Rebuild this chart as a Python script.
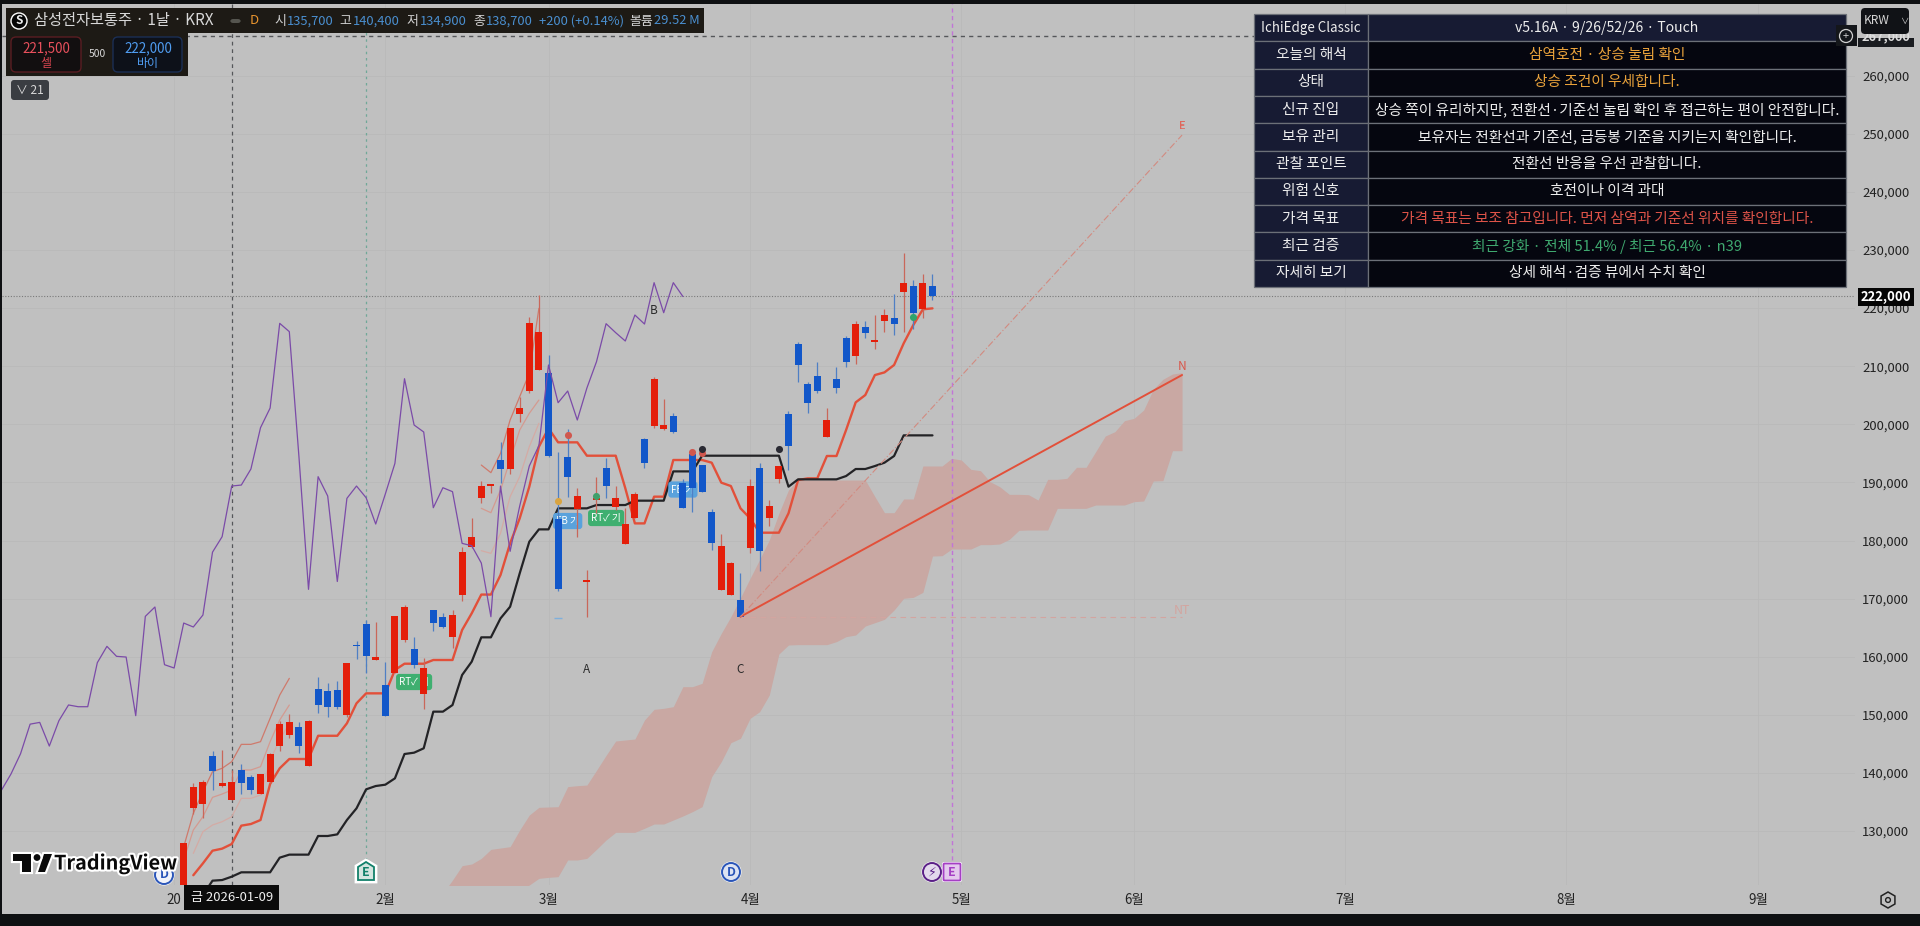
import numpy as np, pandas as pd, seaborn as sns
import matplotlib
matplotlib.use("Agg")
import matplotlib.pyplot as plt
from matplotlib.patches import Rectangle, FancyBboxPatch, Circle, Polygon, RegularPolygon
import matplotlib.patheffects as pe

# ---------- data ----------
opens = [119000,134000,134700,143000,137700,135300,140450,139250,136400,138400,144700,146600,147950,141250,154450,154160,154270,149900,162080,165690,
 159500,155140,157200,162820,161390,153530,168040,166840,163400,170620,178830,187370,189380,193800,192310,201770,205790,209400,208890,183650,
 194430,185420,172900,186970,192420,185830,179400,183930,197470,199770,199250,201430,189960,194890,192990,184900,171480,170620,169760,178770,
 192420,183930,190590,201720,213880,206940,208310,197870,207850,214910,211760,216800,214220,217780,218240,222770,223800,219840,223800]
highs = [128000,138200,138800,143800,143950,140500,141500,139650,139900,143400,148900,150100,148800,149100,156450,155420,155880,158980,162770,166320,
 165920,159040,166950,168900,163450,159720,168040,167580,168040,178940,183820,190300,189550,196900,199420,204760,218410,222250,211930,195290,
 199130,188980,174930,190870,194150,189380,185540,188400,197590,208200,204350,202000,190590,194890,192990,185370,181120,176360,174470,190590,
 193400,186970,192830,202290,214220,207340,210780,202750,209920,215200,217780,217780,218870,219790,222370,229420,224840,225810,225870]
lows = [118500,133000,132200,137100,137600,135300,136400,136300,136300,138200,143800,146100,143370,141200,150250,149570,150950,149680,159670,157140,
 159440,149860,157140,162540,158000,151000,164490,165000,161450,169650,178650,186510,188120,189840,191450,200450,205330,209350,194430,171370,
 187550,180550,166780,184680,187260,185250,179400,183820,192540,199310,199020,198450,185650,184960,188290,178370,171480,170620,166780,177800,
 174810,182500,189840,192140,207340,201890,205440,197870,205330,209920,210380,214910,212900,215950,215370,215890,216350,218240,221400]
closes = [128000,137500,138400,140300,138300,138400,138200,137000,139800,143300,148400,148700,144630,149000,151700,151400,151400,158980,161790,160070,
 159950,149860,166950,168560,158630,158060,165800,165120,167180,178000,180660,189380,189550,192310,199420,202800,217380,215950,194490,171600,
 190990,187660,172950,187260,189380,187370,182840,188000,193280,207850,199880,198680,185650,189090,188410,179510,179110,176130,166890,189380,
 178140,185940,192830,196320,210210,203720,205730,200740,206250,210780,217320,215770,214340,218810,217260,224380,219210,224380,222000]

tenkan = [np.nan,122400,124440,126620,126970,127770,130930,131210,131900,138100,140800,142400,142400,142400,146400,146400,146400,148540,151980,153700,
 153700,153700,157720,158800,158800,158800,159440,159440,159440,164600,167470,170700,170700,174060,179510,183820,189270,196150,199310,196900,
 196900,196900,194600,194600,194600,194600,189000,182950,182950,187550,187550,193860,193860,193860,193860,193400,189960,189380,185540,183820,
 181350,181350,181350,184680,190410,190700,190700,194550,194550,199020,203780,205040,208480,208940,210210,213940,217090,219790,219960]
kijun = [np.nan,np.nan,119000,121460,121570,122150,122900,122900,122900,122900,125420,125940,125940,125940,129150,129150,129430,131900,133910,137180,
 137750,137980,139070,143260,143490,144240,150550,150550,151690,156860,159150,163340,163340,166600,168610,174350,179800,181920,181920,185540,
 185540,185540,185540,186110,186110,186110,186110,186860,186860,186860,186860,191900,191900,191900,194600,194600,194600,194600,194600,194600,
 194600,194600,194600,189270,190530,190530,190530,190530,190530,191100,192310,192310,192820,193400,194550,198100,198100,198100,198100]
chikou_x_start = -19
chikou = [137000,139800,143300,148400,148700,144630,149000,151700,151400,151400,158980,161790,160070,159950,149860,166950,168560,158630,158060,
 165800,165120,167180,178000,180660,189380,189550,192310,199420,202800,217380,215950,194490,171600,190990,187660,172950,187260,189380,187370,182840,
 188000,193280,207850,199880,198680,185650,189090,188410,179510,179110,176130,166890,189380,178140,185940,192830,196320,210210,203720,205730,200740,
 206250,210780,217320,215770,214340,218810,217260,224380,219210,224380,222000]

thin_a = [127300,133050,136780,140220,140800,141940,144920,144920,145380,149400,153400,156280]
thin_b = [125020,130180,132470,135800,136370,137060,140510,140510,141080,145380,149110,151690]
thin_c = [np.nan,126160,129890,131040,131610,132470,135630,135630,136200,142230,145670,148540]
thin_d = [192990,191680,195000,200740,204760,208770,219960]
thin_e = [185540,184790,188690,193860,199020,201890,204180]
thin_f = [178250,177790,181240,187550,190990,196150,200170]

cloud_start = 27
span_a = [119280,121570,124040,124330,125300,126850,127080,127310,130180,132760,134080,134140,134190,
 137640,137810,137920,140450,143030,145500,145670,145840,149110,150950,151120,151410,154850,154850,155420,160870,164030,166900,
 170160,173490,176760,180090,184680,188700,190410,190410,190410,190410,190410,190410,190410,190410,187550,
 184790,184790,187150,187150,192830,192830,192830,194140,193860,192250,192020,190130,189270,187950,187950,187890,186970,190530,190530,190700,192600,192600,
 195290,197990,198730,200630,201030,202460,206020,207740,208660,208890]
span_b = [118000,118000,118000,118000,118000,118000,118000,118000,119850,120710,121860,122030,122150,
 125020,125020,125300,126850,128460,129780,129780,129780,130470,131210,131210,131900,132590,133340,134200,139360,141940,145210,
 145960,149400,150550,153410,160470,162020,162080,162080,162080,162080,162600,163460,163740,165290,165860,
 166440,168040,170050,170220,171080,177330,177390,178540,178540,178540,179290,179290,179400,180200,181750,181810,181810,181810,185540,185540,185540,185540,
 186110,186110,186110,186110,186690,186800,190240,190300,195460,195460]

pattern_x = [58, 104]
pattern_n = [166890, 208490]
pattern_e = [166890, 249790]
pattern_nt = [166890, 166890]
wave_labels = [("A", 42, 157890), ("B", 49, 219550), ("C", 58, 157890)]
signal_labels = [("FB 기", 40, 183360, "#5AA2DC"), ("RT✓ 기", 44, 183880, "#3FAF70"),
                 ("FB 기", 52, 188780, "#5AA2DC"), ("RT✓ 기", 24, 155650, "#3FAF70")]
dots = [(39,186740,"#D9A441"),(40,198100,"#D0574E"),(53,195180,"#D0574E"),(54,195000,"#D0574E"),
        (54,195700,"#2A2A33"),(62,195700,"#2A2A33"),(76,218410,"#2FA56B"),(43,187700,"#3FA06B")]
month_idx = [-1,21,38,59,81,99,121,144,164]
month_lbl = ["20","2월","3월","4월","5월","6월","7월","8월","9월"]
price_ticks = list(range(130000,270000,10000))

table_left = ["IchiEdge Classic","오늘의 해석","상태","신규 진입","보유 관리","관찰 포인트","위험 신호","가격 목표","최근 검증","자세히 보기"]
table_right = ["v5.16A · 9/26/52/26 · Touch","삼역호전 · 상승 눌림 확인","상승 조건이 우세합니다.",
 "상승 쪽이 유리하지만, 전환선·기준선 눌림 확인 후 접근하는 편이 안전합니다.",
 "보유자는 전환선과 기준선, 급등봉 기준을 지키는지 확인합니다.","전환선 반응을 우선 관찰합니다.","호전이나 이격 과대",
 "가격 목표는 보조 참고입니다. 먼저 삼역과 기준선 위치를 확인합니다.","최근 강화 · 전체 51.4% / 최근 56.4% · n39","상세 해석·검증 뷰에서 수치 확인"]
table_colors = ["#EDEDED","#E9A23B","#E9A23B","#EDEDED","#EDEDED","#EDEDED","#EDEDED","#DD5348","#3FA96F","#EDEDED"]

# ---------- theme ----------
sns.set_theme(style="white")
FONT = ['Noto Sans CJK KR','DejaVu Sans']
plt.rcParams['font.family'] = FONT
W, H = 1920, 926
BG = "#C0C0C0"
fig = plt.figure(figsize=(W/100, H/100), dpi=100, facecolor="#0E1012")
bg = fig.add_axes([2/W, (H-914)/H, (W-2)/W, (914-4)/H], zorder=0); bg.set_facecolor(BG); bg.set_xticks([]); bg.set_yticks([])
for s in bg.spines.values(): s.set_visible(False)

ax = fig.add_axes([2/W, (H-885)/H, 1853/W, 881/H], zorder=1)
ax.patch.set_alpha(0)
ax.set_xlim(-18.93, 174.1)
ax.set_ylim(120716, 272340)
for s in ax.spines.values(): s.set_visible(False)
ax.yaxis.tick_right()
ax.set_yticks(price_ticks)
ax.set_yticklabels([f"{p:,}" for p in price_ticks], fontsize=9.4, color="#222222")
ax.set_xticks(month_idx); ax.set_xticklabels(month_lbl, fontsize=9.6, color="#222222")
ax.tick_params(axis="both", length=0)
ax.tick_params(axis="y", pad=5)
ax.tick_params(axis="x", pad=6)
ax.grid(True, color="#B9B9B9", lw=0.6, zorder=0)

idx = np.arange(len(closes))
# cloud
cx = np.arange(cloud_start, cloud_start+len(span_a))
ax.fill_between(cx, span_b, span_a, color="#C9A8A3", lw=0, zorder=1)

# reference lines
marker_top = (885-860)/881
ax.axvline(5, color="#55575A", lw=0.9, ls=(0,(3,3)), zorder=2)
ax.axvline(19, ymin=marker_top, color="#6FA898", lw=0.9, ls=(0,(2,3)), zorder=2)
ax.axvline(80, ymin=marker_top, color="#C274D8", lw=1.0, ls=(0,(3,2.5)), zorder=2)
ax.axhline(222000, color="#7A7A7A", lw=0.8, ls=(0,(1,1.5)), zorder=2)
ax.axhline(266830, color="#55575A", lw=1.0, ls=(0,(3,3)), zorder=2)

def line(xs, ys, color, lw, z, alpha=1):
    df = pd.DataFrame({"i": xs, "p": ys})
    sns.lineplot(data=df, x="i", y="p", ax=ax, color=color, lw=lw, zorder=z, alpha=alpha, errorbar=None, sort=False, legend=False)

for vals, col, st in [(thin_a,"#CF7A6C",0),(thin_b,"#D49A90",0),(thin_c,"#D4ABA5",0),(thin_d,"#CF7A6C",31),(thin_e,"#D49A90",31),(thin_f,"#D4ABA5",31)]:
    line(np.arange(st, st+len(vals)), vals, col, 0.9, 3)
line(idx, tenkan, "#E2503A", 1.7, 3)
line(idx, kijun, "#232326", 1.6, 3)

# signal labels under candles
for txt, i, p, col in signal_labels:
    ax.text(i, p, txt, fontsize=7, color="white", ha="center", va="center", zorder=3.5,
            bbox=dict(boxstyle="round,pad=0.32", fc=col, ec="none"))

# candles
up = np.array(closes) >= np.array(opens)
UP, DN = "#E41E0A", "#1257C9"
ax.vlines(idx[up], np.array(lows)[up], np.array(highs)[up], color="#C9675A", lw=0.9, zorder=4)
ax.vlines(idx[~up], np.array(lows)[~up], np.array(highs)[~up], color="#4F7FC4", lw=0.9, zorder=4)
o, c = np.array(opens), np.array(closes)
bot = np.minimum(o, c); hgt = np.maximum(np.abs(c-o), 300)
ax.bar(idx[up], hgt[up], bottom=bot[up], width=0.72, color=UP, lw=0, zorder=5)
ax.bar(idx[~up], hgt[~up], bottom=bot[~up], width=0.72, color=DN, lw=0, zorder=5)
ax.hlines([166720],[38.6],[39.4], color="#7FB0DC", lw=1, zorder=5)

# chikou
line(np.arange(chikou_x_start, chikou_x_start+len(chikou)), chikou, "#7B4BA8", 0.9, 6)

for i, p, col in dots:
    ax.scatter([i],[p], s=26, color=col, lw=0, zorder=6)

# pattern
ax.plot(pattern_x, pattern_n, color="#E2503A", lw=1.4, zorder=7)
ax.plot(pattern_x, pattern_e, color="#D28A80", lw=0.8, ls=(0,(6,2,1,2)), zorder=7)
ax.plot(pattern_x, pattern_nt, color="#D3A5A0", lw=0.8, ls=(0,(5,4)), zorder=2)
ax.text(104, 210000, "N", color="#D9564A", fontsize=8.5, ha="center", va="center", zorder=7)
ax.text(104, 251300, "E", color="#E0665A", fontsize=8, ha="center", va="center", zorder=7)
ax.text(104, 251300, "F", color="#E0665A", fontsize=8, ha="center", va="center", zorder=7)
ax.text(104, 168000, "NT", color="#D3A5A0", fontsize=9, ha="center", va="center", zorder=7)
for t, i, p in wave_labels:
    ax.text(i, p, t, color="#2A2A2A", fontsize=8.5, ha="center", va="center", zorder=7)
ax.set_xlabel(""); ax.set_ylabel("")

# ---------- overlay (pixel coordinates) ----------
ov = fig.add_axes([0,0,1,1], zorder=5); ov.set_xlim(0,W); ov.set_ylim(H,0); ov.axis("off"); ov.patch.set_alpha(0)
def rect(x0,y0,x1,y1,fc,ec="none",lw=0,z=1):
    r = Rectangle((x0,y0),x1-x0,y1-y0,fc=fc,ec=ec,lw=lw,zorder=z); ov.add_patch(r); return r
def pill(x0,y0,x1,y1,fc,ec="none",lw=0,r=3,z=1):
    ov.add_patch(FancyBboxPatch((x0,y0),x1-x0,y1-y0,boxstyle=f"round,pad=0,rounding_size={r}",fc=fc,ec=ec,lw=lw,zorder=z))
def tx(x,y,s,c="#DDDDDD",fs=9.5,ha="left",w="normal",z=3,**k):
    return ov.text(x,y,s,color=c,fontsize=fs,ha=ha,va="center",fontweight=w,zorder=z,**k)

# header
rect(6,8,704,33,"#1D1A15"); rect(6,33,188,76,"#1D1A15")
ov.add_patch(Circle((19,21),8,fc="#050505",zorder=2)); tx(19,21,"S","#EEEEEE",8.5,"center",w="bold")
tx(34,21,"삼성전자보통주 · 1날 · KRX","#D8D8D8",11.0)
pill(230,19,241,23,"#55554F"); tx(254,21,"D","#E8942E",9.5,"center")
B="#4A8FD0"
for x,s,c in [(274,"시","#CFCFCF"),(287,"135,700",B),(339,"고","#CFCFCF"),(353,"140,400",B),(406,"저","#CFCFCF"),(420,"134,900",B),
              (473,"종","#CFCFCF"),(486,"138,700",B),(539,"+200 (+0.14%)",B),(629,"볼륨","#CFCFCF"),(654,"29.52 M",B)]:
    tx(x,21,s,c,9.3)
pill(11,37,81,72,"#120F10",ec="#5A1D22",lw=1,r=5,z=2); tx(46,48,"221,500","#E8505C",9.6,"center"); tx(46,63,"셀","#D8454F",8.6,"center")
pill(113,37,182,72,"#0D1119",ec="#1B2F55",lw=1,r=5,z=2); tx(148,48,"222,000","#4F9CF0",9.6,"center"); tx(148,63,"바이","#4F9CF0",8.6,"center")
tx(97,54,"500","#D8D8D8",7.4,"center")
pill(11,80,49,100,"#3A3D42",r=3); tx(30,90,"∨ 21","#D8D8D8",8.6,"center")

# table
x0,xm,x1 = 1254,1368,1846
y0,y1 = 14,287
n=len(table_left); rh=(y1-y0)/n
for r in range(n):
    ya=y0+r*rh; yb=ya+rh
    rect(x0,ya,xm,yb,"#171B33",ec="#6C7078",lw=0.9)
    rect(xm,ya,x1,yb,"#171B33" if r==0 else "#05060F",ec="#6C7078",lw=0.9)
    tx((x0+xm)/2,(ya+yb)/2,table_left[r],"#EDEDED",9.6 if r==0 else 10.6,"center")
    tx((xm+x1)/2,(ya+yb)/2,table_right[r],table_colors[r],10.1 if r==0 else 10.6,"center")
rect(1836,25,1857,46,"#14161A",z=4)
ov.add_patch(Circle((1846,36),6.5,fc="none",ec="#D0D0D0",lw=0.9,zorder=5)); tx(1846,35.5,"+","#D0D0D0",8,"center",z=5)

# price scale items
lab_box = rect(1858,38,1914,47,"#1A1C20",z=2)
lab_txt = tx(1886,37,"267,000","#DDDDDD",9.2,"center",w="bold"); lab_txt.set_clip_path(lab_box)
pill(1861,8,1909,34,"#101216",r=4,z=4); tx(1864,21,"KRW","#D5D5D5",8.6,z=5); tx(1904,21,"∨","#D5D5D5",6,"center",z=5)
rect(1858,288,1914,306,"#050505",z=2); tx(1886,297,"222,000","#FFFFFF",9.4,"center",w="bold")
ov.add_patch(RegularPolygon((1888,900),6,radius=8,fc="none",ec="#222222",lw=1.1,zorder=3))
ov.add_patch(Circle((1888,900),2.4,fc="none",ec="#222222",lw=1,zorder=3))

# date label
rect(184,885,279,910,"#0B0B0B",z=3); tx(232,898,"금 2026-01-09","#F0F0F0",9.4,"center",z=4)

# event markers
def ev(x,col,s,shape,y=872,fc="white"):
    if shape=="o":
        ov.add_patch(Circle((x,y),10.5,fc="white",ec="none",zorder=2))
        ov.add_patch(Circle((x,y),9,fc=fc,ec=col,lw=1.4,zorder=2))
    elif shape=="s":
        pill(x-10,y-10,x+10,y+10,"white",r=2,z=2); pill(x-8.5,y-8.5,x+8.5,y+8.5,"#E4C9EE",ec=col,lw=1.3,r=1,z=2)
    else:
        ov.add_patch(Polygon([(x,y-12),(x+10,y-6),(x+10,y+10),(x-10,y+10),(x-10,y-6)],fc=fc,ec="white",lw=2,zorder=2))
        ov.add_patch(Polygon([(x,y-10),(x+8,y-5),(x+8,y+8),(x-8,y+8),(x-8,y-5)],fc="#D5E5E0",ec=col,lw=1.3,zorder=2))
    tx(x,y,s,col,9,"center",w="bold",z=3)
ev(164,"#2A55B8","D","o",y=875,fc="#F1F3FA")
ev(366,"#12806A","E","p")
ev(731,"#2A55B8","D","o",fc="#DDE3F2")
ev(932,"#5A1F86","⚡","o",fc="#E3D9EC")
ev(952,"#A53FC4","E","s")

# logo
st=[pe.withStroke(linewidth=3,foreground="white")]
for poly in ([(13,854),(31,854),(31,872),(22,872),(22,861),(13,861)],[(38,872),(45,872),(52,854),(44,854)]):
    p=Polygon(poly,fc="#0A0A0A",ec="none",zorder=6); p.set_path_effects([pe.withStroke(linewidth=3,foreground="white")]); ov.add_patch(p)
cc=Circle((37,857.5),3.4,fc="#0A0A0A",ec="none",zorder=6); cc.set_path_effects(st); ov.add_patch(cc)
t=tx(54,863,"TradingView","#0A0A0A",14.3,w="bold",z=6); t.set_path_effects(st)

fig.savefig("out.png", dpi=100, facecolor=fig.get_facecolor())
